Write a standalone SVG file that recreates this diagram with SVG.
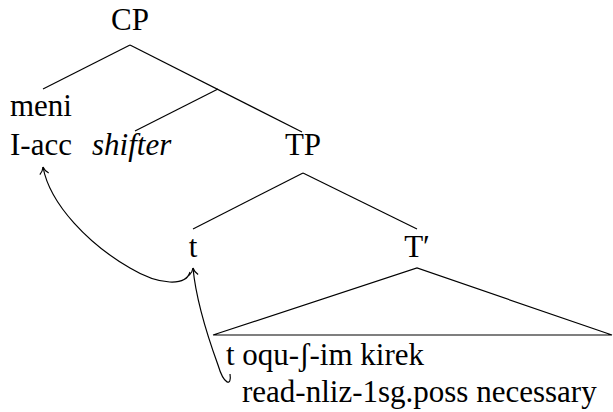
<svg xmlns="http://www.w3.org/2000/svg" width="613" height="412" viewBox="0 0 613 412">
<defs>
<marker id="ah" markerUnits="userSpaceOnUse" markerWidth="16" markerHeight="16" viewBox="-8 -8 16 16" refX="0" refY="0" orient="auto">
<path d="M-7,-4.5 C-5,-2 -2,-0.5 0,0 C-2,0.5 -5,2 -7,4.5" fill="none" stroke="#000" stroke-width="1.2"/>
</marker>
</defs>
<g id="edges" stroke="#000" stroke-width="1.2" fill="none">
<line x1="130" y1="45" x2="43" y2="89"/>
<line x1="130" y1="45" x2="302" y2="132"/>
<line x1="218" y1="89" x2="135" y2="131"/>
<line x1="303" y1="173" x2="193" y2="229"/>
<line x1="303" y1="173" x2="417" y2="229"/>
<polyline points="213,335 417,268 612,335 213,335"/>
<path d="M190,272 C186,286 160,286 130,268 C90,245 50,205 43,167" marker-end="url(#ah)"/>
<path d="M230,374 C232,387 224,385 218,365 C206,332 196,300 193,268" marker-end="url(#ah)"/>
</g>
<g font-family="Liberation Serif, Times New Roman, Tinos, Nimbus Roman, FreeSerif, serif" font-size="24" fill="#000">
<g id="CP"><text transform="translate(130,30) scale(1.2917)" text-anchor="middle">CP</text></g>
<g id="meni"><text transform="translate(10,116) scale(1.2917)">meni</text><text transform="translate(10,155) scale(1.2917)">I-acc</text></g>
<g id="shifter"><text transform="translate(92,155) scale(1.2917)" font-style="italic">shifter</text></g>
<g id="TP"><text transform="translate(303,155) scale(1.2917)" text-anchor="middle">TP</text></g>
<g id="t"><text transform="translate(193,257) scale(1.2917)" text-anchor="middle">t</text></g>
<g id="Tbar"><text transform="translate(417,257) scale(1.2917)" text-anchor="middle">T&#8242;</text></g>
<g id="VP"><text transform="translate(226,365) scale(1.2917)">t oqu-&#643;-im kirek</text><text transform="translate(242,402) scale(1.2917)">read-nliz-1sg.poss necessary</text></g>
</g>
</svg>
